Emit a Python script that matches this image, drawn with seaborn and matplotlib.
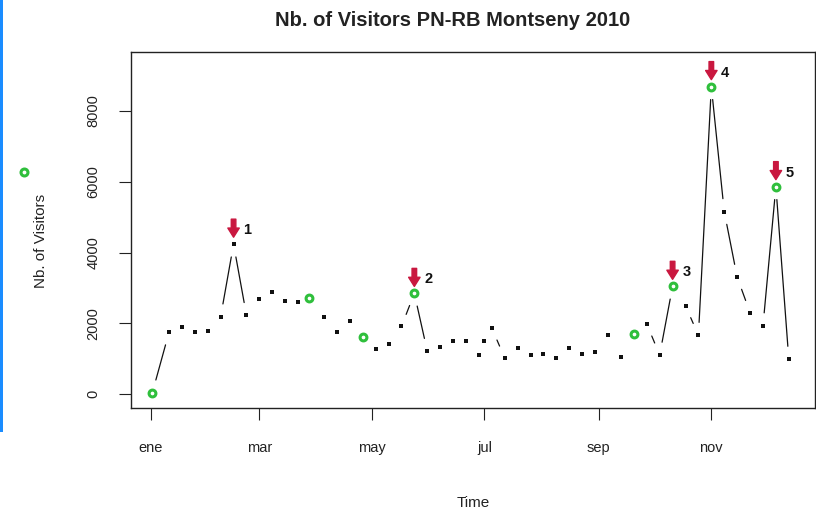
import numpy as np
import pandas as pd
import matplotlib
matplotlib.use("Agg")
import matplotlib.pyplot as plt
import matplotlib.dates as mdates
from matplotlib.patches import Rectangle
from matplotlib.lines import Line2D
import seaborn as sns

# Weekly visitor counts, PN-RB Montseny, 2010
dates = [
    "2010-01-02", "2010-01-11", "2010-01-18", "2010-01-25", "2010-02-01",
    "2010-02-08", "2010-02-15", "2010-02-22", "2010-03-01", "2010-03-08",
    "2010-03-15", "2010-03-22", "2010-03-28", "2010-04-05", "2010-04-12",
    "2010-04-19", "2010-04-26", "2010-05-03", "2010-05-10", "2010-05-17",
    "2010-05-24", "2010-05-31", "2010-06-07", "2010-06-14", "2010-06-21",
    "2010-06-28", "2010-07-01", "2010-07-05", "2010-07-12", "2010-07-19",
    "2010-07-26", "2010-08-02", "2010-08-09", "2010-08-16", "2010-08-23",
    "2010-08-30", "2010-09-06", "2010-09-13", "2010-09-20", "2010-09-27",
    "2010-10-04", "2010-10-11", "2010-10-18", "2010-10-25", "2010-11-01",
    "2010-11-08", "2010-11-15", "2010-11-22", "2010-11-29", "2010-12-06",
    "2010-12-13",
]
visitors = [
    50, 1750, 1910, 1750, 1790,
    2190, 4240, 2230, 2680, 2880,
    2640, 2600, 2730, 2180, 1750,
    2070, 1620, 1270, 1420, 1915,
    2850, 1220, 1345, 1505, 1505,
    1100, 1505, 1870, 1025, 1300,
    1100, 1150, 1020, 1300, 1140,
    1185, 1665, 1060, 1695, 1985,
    1110, 3050, 2500, 1665, 8690,
    5160, 3310, 2305, 1935, 5865,
    990,
]

# Holidays / special days marked with a green ring
highlight_dates = ["2010-01-02", "2010-03-28", "2010-04-26", "2010-05-24",
                   "2010-09-20", "2010-10-11", "2010-11-01", "2010-12-06"]

# Numbered peaks
peak_dates = ["2010-02-15", "2010-05-24", "2010-10-11", "2010-11-01", "2010-12-06"]
peak_labels = ["1", "2", "3", "4", "5"]

month_ticks = ["2010-01-01", "2010-03-01", "2010-05-01", "2010-07-01",
               "2010-09-01", "2010-11-01"]
month_labels = ["ene", "mar", "may", "jul", "sep", "nov"]

df = pd.DataFrame({"date": pd.to_datetime(dates), "visitors": visitors})
hl = df[df["date"].isin(pd.to_datetime(highlight_dates))]
pk = df[df["date"].isin(pd.to_datetime(peak_dates))].reset_index(drop=True)

sns.set_style("white")
plt.rcParams["font.family"] = ["Liberation Sans", "DejaVu Sans"]

W, H = 816, 512
fig = plt.figure(figsize=(W / 100, H / 100), dpi=100)
fig.patch.set_facecolor("white")

# axes box in pixels: left 131, right 815, top 52, bottom 407.5
L, R, T, B = 131, 815, 52, 407.5
ax = fig.add_axes([L / W, (H - B) / H, (R - L) / W, (B - T) / H])

jan1 = mdates.date2num(pd.Timestamp("2010-01-01"))
ax.set_xlim(jan1 - 10.6, jan1 + 360.2)
ax.set_ylim(-373, 9667)

# dots
sns.scatterplot(data=df, x="date", y="visitors", ax=ax, marker="s", s=5,
                color="#111111", linewidth=0, zorder=3)

# R-style "b" line: segments with gaps around every point
gap = 13.0
xnum = mdates.date2num(df["date"])
pts = ax.transData.transform(np.column_stack([xnum, df["visitors"].to_numpy()]))
inv = ax.transData.inverted()
for p0, p1 in zip(pts[:-1], pts[1:]):
    d = p1 - p0
    seg_len = np.hypot(*d)
    if seg_len > 2 * gap:
        u = d / seg_len
        a, b = inv.transform(np.array([p0 + u * gap, p1 - u * gap]))
        ax.plot([a[0], b[0]], [a[1], b[1]], color="#111111", lw=0.9, zorder=2)

# green rings
sns.scatterplot(data=hl, x="date", y="visitors", ax=ax, marker="o", s=24,
                facecolor="white", edgecolor="#2fbf3c", linewidth=2.2, zorder=4)

# numbered red arrows above the peaks
for i, row in pk.iterrows():
    ax.annotate("", xy=(row["date"], row["visitors"]),
                xytext=(0, 25), textcoords="offset pixels",
                arrowprops=dict(arrowstyle="simple,head_width=0.75,head_length=0.6,tail_width=0.3",
                                color="#c9173f", shrinkA=0, shrinkB=5,
                                mutation_scale=11),
                zorder=5)
    ax.annotate(peak_labels[i], xy=(row["date"], row["visitors"]),
                xytext=(14, 14), textcoords="offset pixels",
                ha="center", va="center", fontsize=10.5, fontweight="bold",
                color="#111111", zorder=5)

# axes styling
for sp in ax.spines.values():
    sp.set_visible(True)
    sp.set_color("#222222")
    sp.set_linewidth(1.0)

ax.set_xticks(pd.to_datetime(month_ticks))
ax.set_xticklabels(month_labels)
ax.set_yticks([0, 2000, 4000, 6000, 8000])
ax.set_yticklabels(["0", "2000", "4000", "6000", "8000"], rotation=90, va="center")
ax.tick_params(axis="both", direction="out", length=8.5, width=0.8,
               color="#222222", labelsize=10.5, labelcolor="#222222",
               bottom=True, left=True, top=False, right=False)
ax.tick_params(axis="x", pad=15.5)
ax.tick_params(axis="y", pad=13.5)

ax.set_xlabel("Time", fontsize=11, color="#222222")
ax.xaxis.label.set_va("center")
ax.xaxis.set_label_coords(0.5, (B - 503) / (B - T))
ax.set_ylabel("Nb. of Visitors", fontsize=11, color="#222222")
ax.yaxis.label.set_va("center")
ax.yaxis.set_label_coords((41 - L) / (R - L), (B - 241) / (B - T))

fig.text(453 / W, 1 - 20 / H, "Nb. of Visitors PN-RB Montseny 2010",
         ha="center", va="center", fontsize=14.5, fontweight="bold", color="#222222")

# stray legend key in the left margin
fig.add_artist(Line2D([24 / W], [1 - 172 / H], marker="o", markersize=5,
                      markerfacecolor="white", markeredgecolor="#2fbf3c",
                      markeredgewidth=2.2, linestyle="none",
                      transform=fig.transFigure))

# blue strip along the left edge
fig.add_artist(Rectangle((0, 1 - 432 / H), 3 / W, 432 / H,
                         transform=fig.transFigure, color="#1a8cff", lw=0))

fig.savefig("out.png", dpi=100)
